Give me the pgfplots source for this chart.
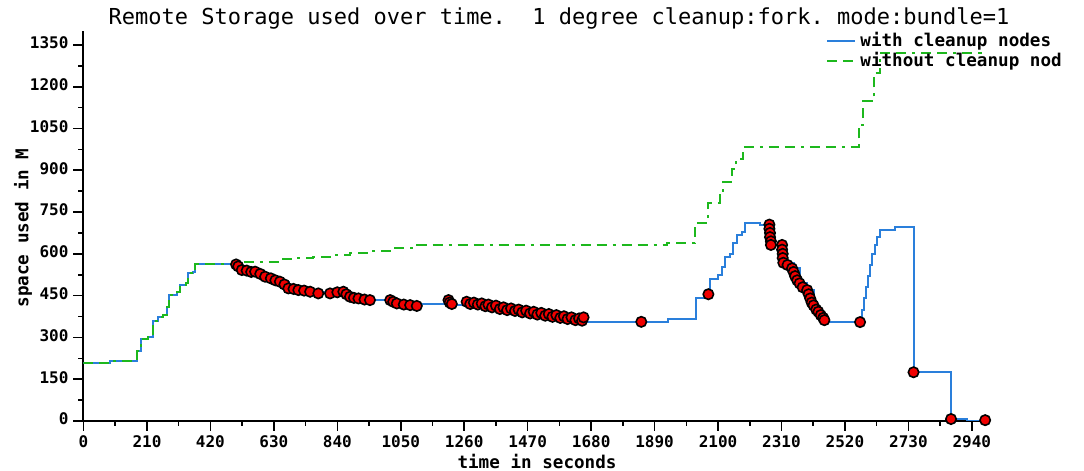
\documentclass[border=0pt]{standalone}
\usepackage{fontspec}
\setmonofont{DejaVu Sans Mono}
\usepackage{pgfplots}
\pgfplotsset{compat=1.18}
\definecolor{lblue}{HTML}{2A7FDB}
\definecolor{lgreen}{HTML}{1DB81D}
\definecolor{dred}{HTML}{F00000}

\newcommand{\tickfont}{\ttfamily\bfseries\fontsize{8}{8}\selectfont}
\newcommand{\labfont}{\ttfamily\bfseries\fontsize{8.8}{8.8}\selectfont}

\begin{document}
\begin{tikzpicture}
% 1 px of the reference = 0.5pt
\path[use as bounding box] (0pt,0pt) rectangle (542pt,235.5pt);
\begin{axis}[
    at={(41.75pt,25pt)}, anchor=south west,
    scale only axis, width=453.25pt, height=195pt,
    xmin=0, xmax=3000, ymin=0, ymax=1400,
    axis x line*=bottom, axis y line*=left,
    axis line style={line width=1pt, black},
    xtick={0,210,...,2940}, ytick={0,150,...,1350},
    minor x tick num=1, minor y tick num=1,
    tick align=outside, major tick length=5pt, minor tick length=2.5pt,
    tick style={black, line width=0.8pt},
    scaled ticks=false,
    /pgf/number format/1000 sep={},
    /pgf/number format/assume math mode=true,
    tick label style={font=\tickfont},
    yticklabel style={xshift=1pt, yshift=1pt},
    xticklabel style={yshift=1pt},
    xlabel={time in seconds}, ylabel={space used in M},
    label style={font=\labfont},
    xlabel style={at={(axis description cs:0.5003,-0.105)}, anchor=center},
    ylabel style={at={(axis description cs:-0.0667,0.495)}, anchor=center},
    legend style={at={(axis description cs:0.8125,1.018)}, anchor=north west,
        draw=none, fill=none, font=\labfont, legend cell align=left,
        row sep=-2.5pt},
    legend image code/.code={\draw[#1] (-4.5pt,0pt) -- (9.5pt,0pt);},
]
% with cleanup nodes
\addplot[lblue, line width=1pt, const plot] coordinates {
    (0,207)(88,217)(176,250)(189,293)(214,302)(231,359)(248,372)(262,380)
    (277,410)(284,452)(310,464)(319,488)(339,497)(347,530)(363,536)(369,564)
    (500,564)(505,548)(540,540)(580,530)(610,518)(650,500)(680,478)(715,470)
    (760,462)(800,458)(850,456)(880,448)(910,440)(950,434)(1030,424)(1080,416)
    (1113,420)(1200,418)(1265,415)(1300,410)(1340,405)(1380,398)(1420,392)
    (1460,386)(1500,380)(1540,374)(1580,368)(1620,362)(1650,356)(1665,354)
    (1935,366)(2027,443)(2060,470)(2074,510)(2101,524)(2112,554)(2123,588)
    (2140,600)(2151,638)(2164,668)(2179,680)(2190,710)(2239,704)(2270,632)
    (2312,566)(2350,548)(2370,494)(2396,470)(2416,416)(2432,392)(2451,366)
    (2458,355)(2576,400)(2583,440)(2590,480)(2597,520)(2604,560)(2611,600)
    (2618,630)(2625,660)(2637,686)(2686,698)(2747,175)(2871,7)(2924,0)(2984,0)
};
\addlegendentry{with cleanup nodes}
% cleanup events
\addplot[only marks, mark=*, mark size=2.6pt,
    mark options={fill=dred, draw=black, line width=0.8pt}, forget plot] coordinates {
    (505,562)(512,555)(524,542)(540,540)(555,535)(568,536)(585,528)(601,518)
    (620,512)(635,505)(650,500)(665,490)(678,476)(695,474)(711,470)(730,468)
    (750,464)(777,458)(816,458)(840,462)(860,464)(870,455)(882,446)(895,442)
    (910,440)(930,436)(948,434)(1015,434)(1025,428)(1037,422)(1060,418)
    (1081,416)(1103,413)(1208,434)(1212,425)(1219,420)
    (1268,428)(1280,420)(1292,425)(1305,418)(1318,422)(1330,412)(1340,418)
    (1352,408)(1365,414)(1378,402)(1390,408)(1402,398)(1415,404)(1428,395)
    (1440,400)(1452,390)(1465,396)(1478,386)(1490,392)(1502,382)(1515,388)
    (1528,378)(1540,384)(1552,374)(1565,380)(1578,370)(1590,376)(1602,366)
    (1615,372)(1628,362)(1640,368)(1650,360)(1655,372)
    (1846,356)(2068,455)
    (2270,705)(2270,690)(2272,675)(2272,660)(2275,645)(2275,632)(2312,632)
    (2312,615)(2314,600)(2314,585)(2316,568)(2330,560)(2345,548)(2350,535)
    (2355,520)(2362,505)(2370,494)(2380,480)(2395,470)(2400,455)(2405,440)
    (2410,425)(2416,415)(2425,400)(2432,392)(2440,380)(2448,370)(2452,362)
    (2570,355)(2747,175)(2871,7)(2984,3)
};
% without cleanup nodes
\addplot[lgreen, line width=1pt, const plot,
    dash pattern=on 5pt off 3pt on 5pt off 3pt on 1.5pt off 3pt] coordinates {
    (0,207)(88,217)(176,250)(189,293)(214,302)(231,359)(248,372)(262,380)
    (277,410)(284,452)(310,464)(319,488)(339,497)(347,530)(363,536)(369,564)
    (500,564)(518,570)(560,572)(650,581)(700,585)(760,590)(820,595)(882,602)
    (950,610)(1025,620)(1103,630)(1930,638)(2024,712)(2068,784)(2105,827)
    (2118,859)(2146,904)(2160,940)(2184,985)(2565,1063)(2581,1147)(2615,1248)
    (2637,1320)(2975,1320)
};
\addlegendentry{without cleanup nod}
\end{axis}
\node[font=\ttfamily\fontsize{11}{11}\selectfont] at (279.5pt,226.5pt)
    {Remote Storage used over time.\ \ 1 degree cleanup:fork. mode:bundle=1};
\end{tikzpicture}
\end{document}
